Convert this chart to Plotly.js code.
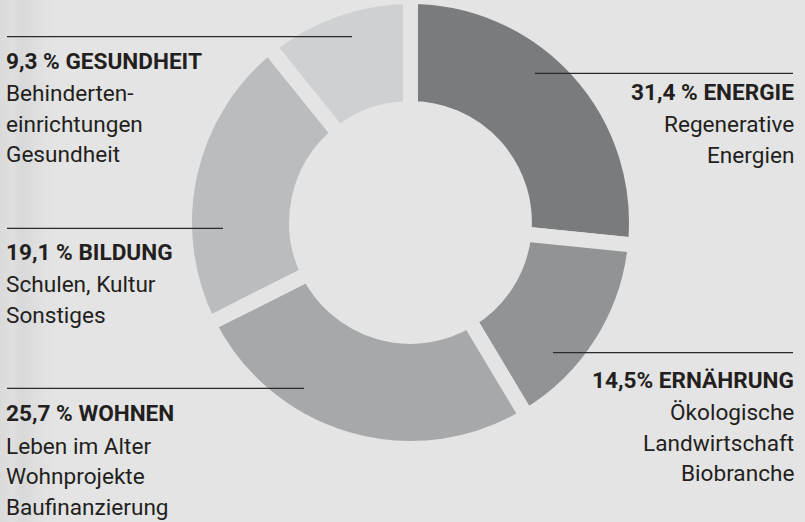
<!DOCTYPE html>
<html>
<head>
<meta charset="utf-8">
<script src="https://cdn.plot.ly/plotly-3.0.1.min.js"></script>
<style>
  html, body { margin: 0; padding: 0; width: 805px; height: 522px; overflow: hidden;
    background: linear-gradient(to right, #d9dad9 0px, #dedfde 12px, #d8d9d8 22px, #dfe0df 40px, #e3e4e3 58px, #e3e4e3 100%); }
  #chart { position: absolute; left: 0; top: -20px; width: 805px; height: 542px; }
</style>
</head>
<body>
<div id="chart"></div>
<script>
// ---- data ----
const categories = ['ENERGIE', 'ERNÄHRUNG', 'WOHNEN', 'BILDUNG', 'GESUNDHEIT'];
// angular share of each ring segment as drawn in the picture (%)
const sliceShares = [26.6, 14.8, 26.2, 21.6, 10.8];
// printed percentage labels
const percentLabels = ['31,4 %', '14,5%', '25,7 %', '19,1 %', '9,3 %'];
const subLines = [
  ['Regenerative', 'Energien'],
  ['Ökologische', 'Landwirtschaft', 'Biobranche'],
  ['Leben im Alter', 'Wohnprojekte', 'Baufinanzierung'],
  ['Schulen, Kultur', 'Sonstiges'],
  ['Behinderten-', 'einrichtungen', 'Gesundheit']
];
const sliceColors = ['#7a7b7d', '#929395', '#a7a8aa', '#bbbcbe', '#cfd0d1'];

// ---- layout helpers (pixel positions in the 805x522 window) ----
const W = 805, H = 542, OFF = 20;
const px = x => x / W;
const py = y => 1 - (y + OFF) / H;

// block placement: side, text x, title baseline, rule y, rule x0, rule x1
const blocks = [
  {side: 'right', x: 796, base: 100,   ry: 73.3,  rx0: 535, rx1: 793},
  {side: 'right', x: 796, base: 388.3, ry: 352.7, rx0: 553, rx1: 793},
  {side: 'left',  x: 4,   base: 421.7, ry: 388.3, rx0: 7,   rx1: 304},
  {side: 'left',  x: 4,   base: 260,   ry: 228.3, rx0: 7,   rx1: 223},
  {side: 'left',  x: 4,   base: 69,    ry: 36.7,  rx0: 7,   rx1: 352}
];

const FONT = 'Roboto, "Liberation Sans", sans-serif';
const FS = 22.6;
const TXT = '#231f20';

const annotations = [];
const shapes = [];
blocks.forEach((b, i) => {
  const lines = [{t: '<b>' + percentLabels[i] + ' ' + categories[i] + '</b>'}]
    .concat(subLines[i].map(s => ({t: s})));
  let y = b.base;
  lines.forEach((ln, k) => {
    if (k === 1) y += 32.5; else if (k > 1) y += 30.5;
    annotations.push({
      xref: 'paper', yref: 'paper', x: px(b.x), y: py(y - 0.35 * FS),
      xanchor: b.side, yanchor: 'middle', showarrow: false,
      text: ln.t, font: {family: FONT, size: FS, color: TXT}
    });
  });
  shapes.push({type: 'line', xref: 'paper', yref: 'paper',
    x0: px(b.rx0), x1: px(b.rx1), y0: py(b.ry), y1: py(b.ry),
    line: {color: '#2a2a2a', width: 1.3}, layer: 'above'});
});

// pie geometry: centre (410.5, 222.5), geometric radius 226 (stroke eats 7.5px)
const cx = 410.5, cy = 222.5, R = 226;
const trace = {
  type: 'pie',
  values: sliceShares,
  labels: categories,
  sort: false,
  direction: 'clockwise',
  rotation: 0,
  hole: 0.504,
  textinfo: 'none',
  hoverinfo: 'none',
  marker: {colors: sliceColors, line: {color: '#e3e4e3', width: 15}},
  domain: {x: [px(cx - R), px(cx + R)], y: [py(cy + R), py(cy - R)]}
};

Plotly.newPlot('chart', [trace], {
  width: W, height: H,
  margin: {l: 0, r: 0, t: 0, b: 0},
  paper_bgcolor: 'rgba(0,0,0,0)',
  plot_bgcolor: 'rgba(0,0,0,0)',
  showlegend: false,
  annotations: annotations,
  shapes: shapes
}, {staticPlot: true});
</script>
</body>
</html>
